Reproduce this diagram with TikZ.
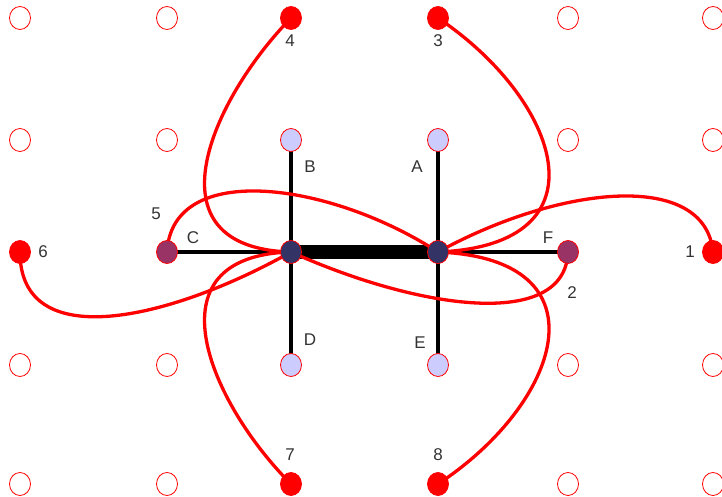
\documentclass[tikz,border=0pt]{standalone}
\usepackage{fontspec}
\setmainfont{Liberation Sans}
\usetikzlibrary{shapes.geometric,backgrounds}
\definecolor{hubnavy}{HTML}{333366}
\definecolor{sideplum}{HTML}{993366}
\definecolor{lav}{HTML}{CCCCFF}
\definecolor{txt}{HTML}{333333}
\tikzset{
 gridpt/.style={ellipse, draw=red, line width=0.8pt, minimum width=21pt, minimum height=23pt, inner sep=0pt},
 endpt/.style={gridpt, fill=red},
 lavpt/.style={gridpt, fill=lav},
 hubpt/.style={gridpt, fill=hubnavy},
 sidept/.style={gridpt, fill=sideplum},
 lbl/.style={text=txt, font=\fontsize{17}{20}\selectfont, inner sep=0pt},
 bar/.style={line width=4pt, black},
 wire/.style={line width=3.3pt, red},
}
\begin{document}
\begin{tikzpicture}[x=1pt,y=-1pt]
\useasboundingbox (0,0) rectangle (722,497);
% hollow grid points
\foreach \x in {20,167,568,713} \foreach \y in {18,140,365,484} \node[gridpt] (g-\x-\y) at (\x,\y) {};
% end points
\node[endpt] (n4) at (291,18) {};
\node[endpt] (n3) at (438,18) {};
\node[endpt] (n6) at (20,252) {};
\node[endpt] (n1) at (713,252) {};
\node[endpt] (n7) at (291,484) {};
\node[endpt] (n8) at (438,484) {};
% lavender
\node[lavpt] (B) at (291,140) {};
\node[lavpt] (A) at (438,140) {};
\node[lavpt] (D) at (291,365) {};
\node[lavpt] (E) at (438,365) {};
% hubs and sides
\node[hubpt] (L) at (291,252) {};
\node[hubpt] (R) at (438,252) {};
\node[sidept] (C) at (167,252) {};
\node[sidept] (F) at (568,252) {};
% labels
\node[lbl] (lB) at (310,167) {B};
\node[lbl] (lA) at (417,167) {A};
\node[lbl] (lC) at (193,238) {C};
\node[lbl] (lF) at (548,238) {F};
\node[lbl] (lD) at (310,340) {D};
\node[lbl] (lE) at (420,343) {E};
\node[lbl] (l5) at (156,214) {5};
\node[lbl] (l2) at (572,293) {2};
\node[lbl] (l1) at (690,252) {1};
\node[lbl] (l6) at (43,252) {6};
\node[lbl] (l4) at (290,41) {4};
\node[lbl] (l3) at (438,41) {3};
\node[lbl] (l7) at (290,455) {7};
\node[lbl] (l8) at (438,455) {8};
\begin{scope}[on background layer]
\draw[bar] (C.center) -- (F.center);
\draw[bar] (B.center) -- (D.center);
\draw[bar] (A.center) -- (E.center);
\draw[line width=14pt] (L.center) -- (R.center);
\draw[wire] (n4.center) .. controls (211,100) and (145,248) .. (L.center);
\draw[wire] (n7.center) .. controls (211,404) and (145,256) .. (L.center);
\draw[wire] (n3.center) .. controls (560,100) and (610,245) .. (R.center);
\draw[wire] (n8.center) .. controls (560,404) and (610,259) .. (R.center);
\draw[wire] (C.center) .. controls (172,160) and (330,182) .. (R.center);
\draw[wire] (F.center) .. controls (565,330) and (420,310) .. (L.center);
\draw[wire] (n6.center) .. controls (20,355) and (170,320) .. (L.center);
\draw[wire] (n1.center) .. controls (705,170) and (560,185) .. (R.center);
\end{scope}
\end{tikzpicture}
\end{document}
